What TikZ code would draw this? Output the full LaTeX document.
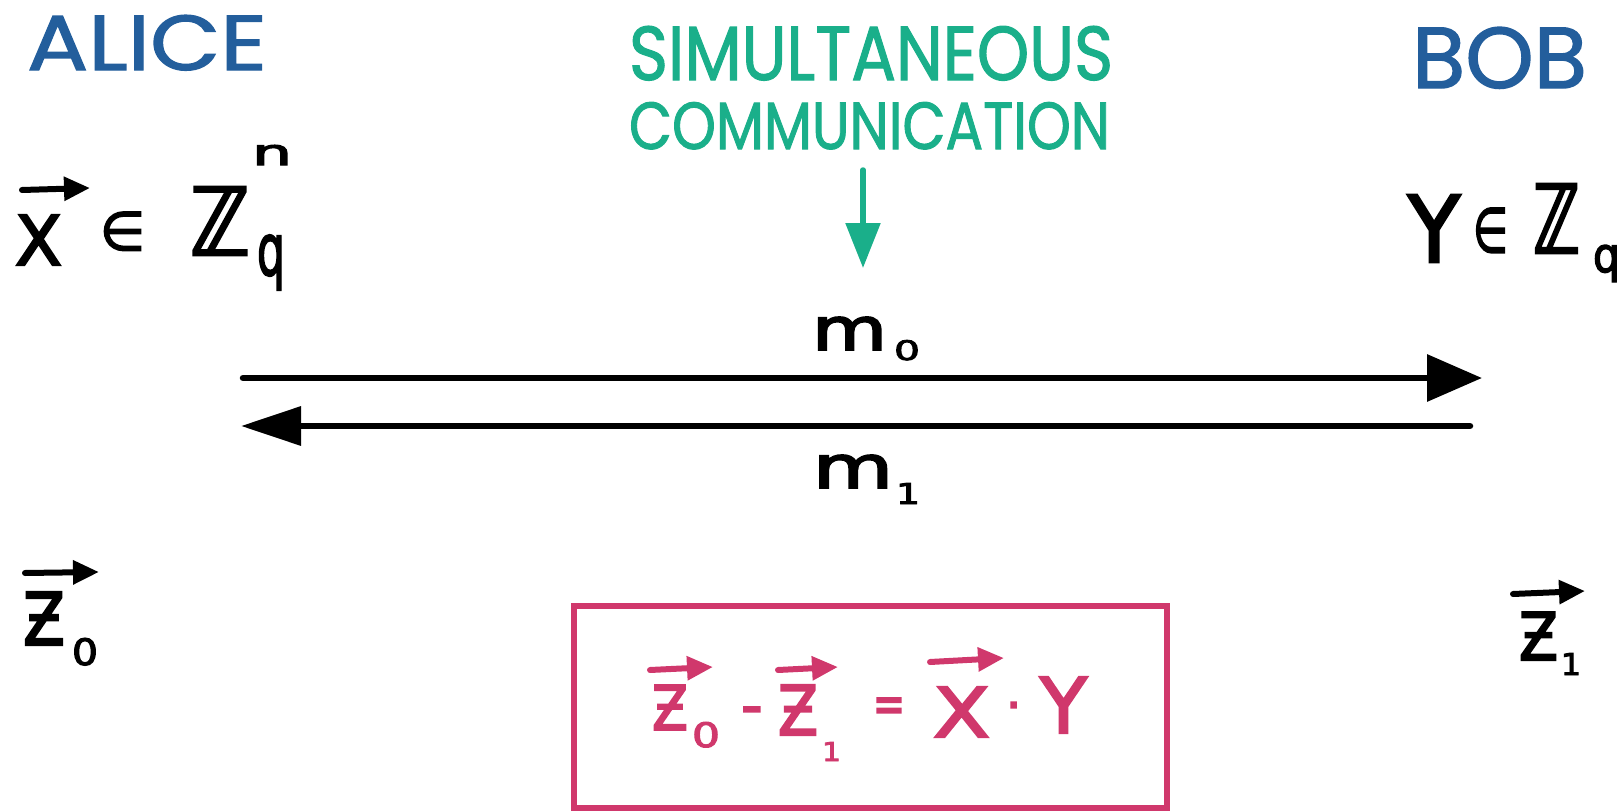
\documentclass[tikz,border=0pt]{standalone}
\usepackage{fontspec}
\usepackage{graphicx}
\setmainfont{DejaVu Sans}
\newfontfamily\mf{DejaVu Sans}[FakeBold=3]
\newfontfamily\hand{Poppins}[FakeBold=1.5]
\usetikzlibrary{arrows.meta}
\definecolor{bobblue}{RGB}{35,94,156}
\definecolor{tealg}{RGB}{26,175,138}
\definecolor{rosered}{RGB}{208,56,108}
\newcommand{\gl}[3]{\resizebox{#1pt}{#2pt}{#3}}
\newcommand{\glt}[3]{\resizebox*{#1pt}{#2pt}{#3}}
\begin{document}
\begin{tikzpicture}[x=1pt,y=-1pt,
  font=\mf,
  glyph/.style={inner sep=0pt, outer sep=0pt, anchor=north west},
  vecarr/.style={line width=6pt, line cap=round, -{Triangle[length=26pt,width=23pt]}},
  msgarr/.style={line width=6.5pt, line cap=round},
  greenarr/.style={tealg, line width=5.5pt, line cap=round, -{Triangle[length=45pt,width=34pt]}},
  eqbox/.style={draw=rosered, line width=6pt, minimum width=593pt, minimum height=202pt, inner sep=0pt, outer sep=0pt}]
\useasboundingbox (0,0) rectangle (1623,811);
% titles
\node[glyph, text=bobblue] (alice) at (27,15) {\gl{240}{55}{\hand ALICE}};
\node[glyph, text=bobblue] (bob) at (1412,27) {\gl{175}{61}{\hand BOB}};
\node[glyph, text=tealg] (simul) at (629,26) {\gl{484}{54}{\hand SIMULTANEOUS}};
\node[glyph, text=tealg] (comm) at (629,102) {\gl{481}{47}{\hand COMMUNICATION}};
\coordinate (gs) at (863,170);
\coordinate (ge) at (863,268);
\draw[greenarr] (gs) -- (ge);
% Alice input
\node[glyph] (xA) at (15,215) {\gl{47}{50}{X}};
\node[glyph] (inA) at (100,212) {\gl{45}{38}{∈}};
\node[glyph] (ZA) at (190,187) {\gl{60}{68}{ℤ}};
\node[glyph] (qA) at (257,235) {\glt{28}{55}{q}};
\node[glyph] (nA) at (252,145) {\gl{40}{20}{n}};
\draw[vecarr] (22,190) -- (90,188);
% Bob input
\node[glyph] (yB) at (1408,195) {\gl{52}{67}{Y}};
\node[glyph] (inB) at (1473,208) {\gl{35}{44}{∈}};
\node[glyph] (ZB) at (1533,184) {\gl{47}{69}{ℤ}};
\node[glyph] (qB) at (1593,245) {\glt{27}{37}{q}};
% messages
\coordinate (a0) at (243,378);
\coordinate (b0) at (1482,378);
\coordinate (b1) at (1470,426);
\coordinate (a1) at (241,426);
\draw[msgarr, -{Triangle[length=55pt,width=46pt]}] (a0) -- (b0);
\draw[msgarr, -{Triangle[length=60pt,width=38pt]}] (b1) -- (a1);
\node[glyph] (m0) at (812,317) {\gl{75}{33}{m}};
\node[glyph] (m0s) at (894,340) {\gl{26}{20}{0}};
\node[glyph] (m1) at (813,455) {\gl{80}{33}{m}};
\node[glyph] (m1s) at (896,483) {\gl{24}{21}{1}};
% outputs
\node[glyph] (z0) at (23,592) {\gl{42}{53}{Ƶ}};
\node[glyph] (z0s) at (72,638) {\gl{26}{27}{0}};
\draw[vecarr] (25,573) -- (99,572);
\node[glyph] (z1) at (1519,612) {\gl{39}{48}{Ƶ}};
\node[glyph] (z1s) at (1561,653) {\gl{20}{22}{1}};
\draw[vecarr] (1513,594) -- (1585,591);
% box with equation
\node[eqbox] (box) at (870.5,707) {};
\begin{scope}[text=rosered, rosered]
\node[glyph] (ez0) at (652,685) {\gl{36}{45}{Ƶ}};
\node[glyph] (ez0s) at (692,722) {\gl{28}{25}{0}};
\draw[vecarr] (650,670) -- (713,667);
\node[glyph] (minus) at (741,707) {\fontsize{60}{60}\selectfont -};
\node[glyph] (ez1) at (778,685) {\gl{40}{50}{Ƶ}};
\node[glyph] (ez1s) at (822,742) {\gl{19}{19}{1}};
\draw[vecarr] (778,670) -- (838,667);
\node[glyph] (equal) at (873,698) {\gl{32}{24}{=}};
\node[glyph] (ex) at (933,687) {\gl{57}{50}{X}};
\draw[vecarr] (930,662) -- (1004,658);
\node[glyph] (edot) at (1006,702) {\fontsize{48}{48}\selectfont ·};
\node[glyph] (ey) at (1040,677) {\gl{47}{56}{Y}};
\end{scope}
\end{tikzpicture}
\end{document}
